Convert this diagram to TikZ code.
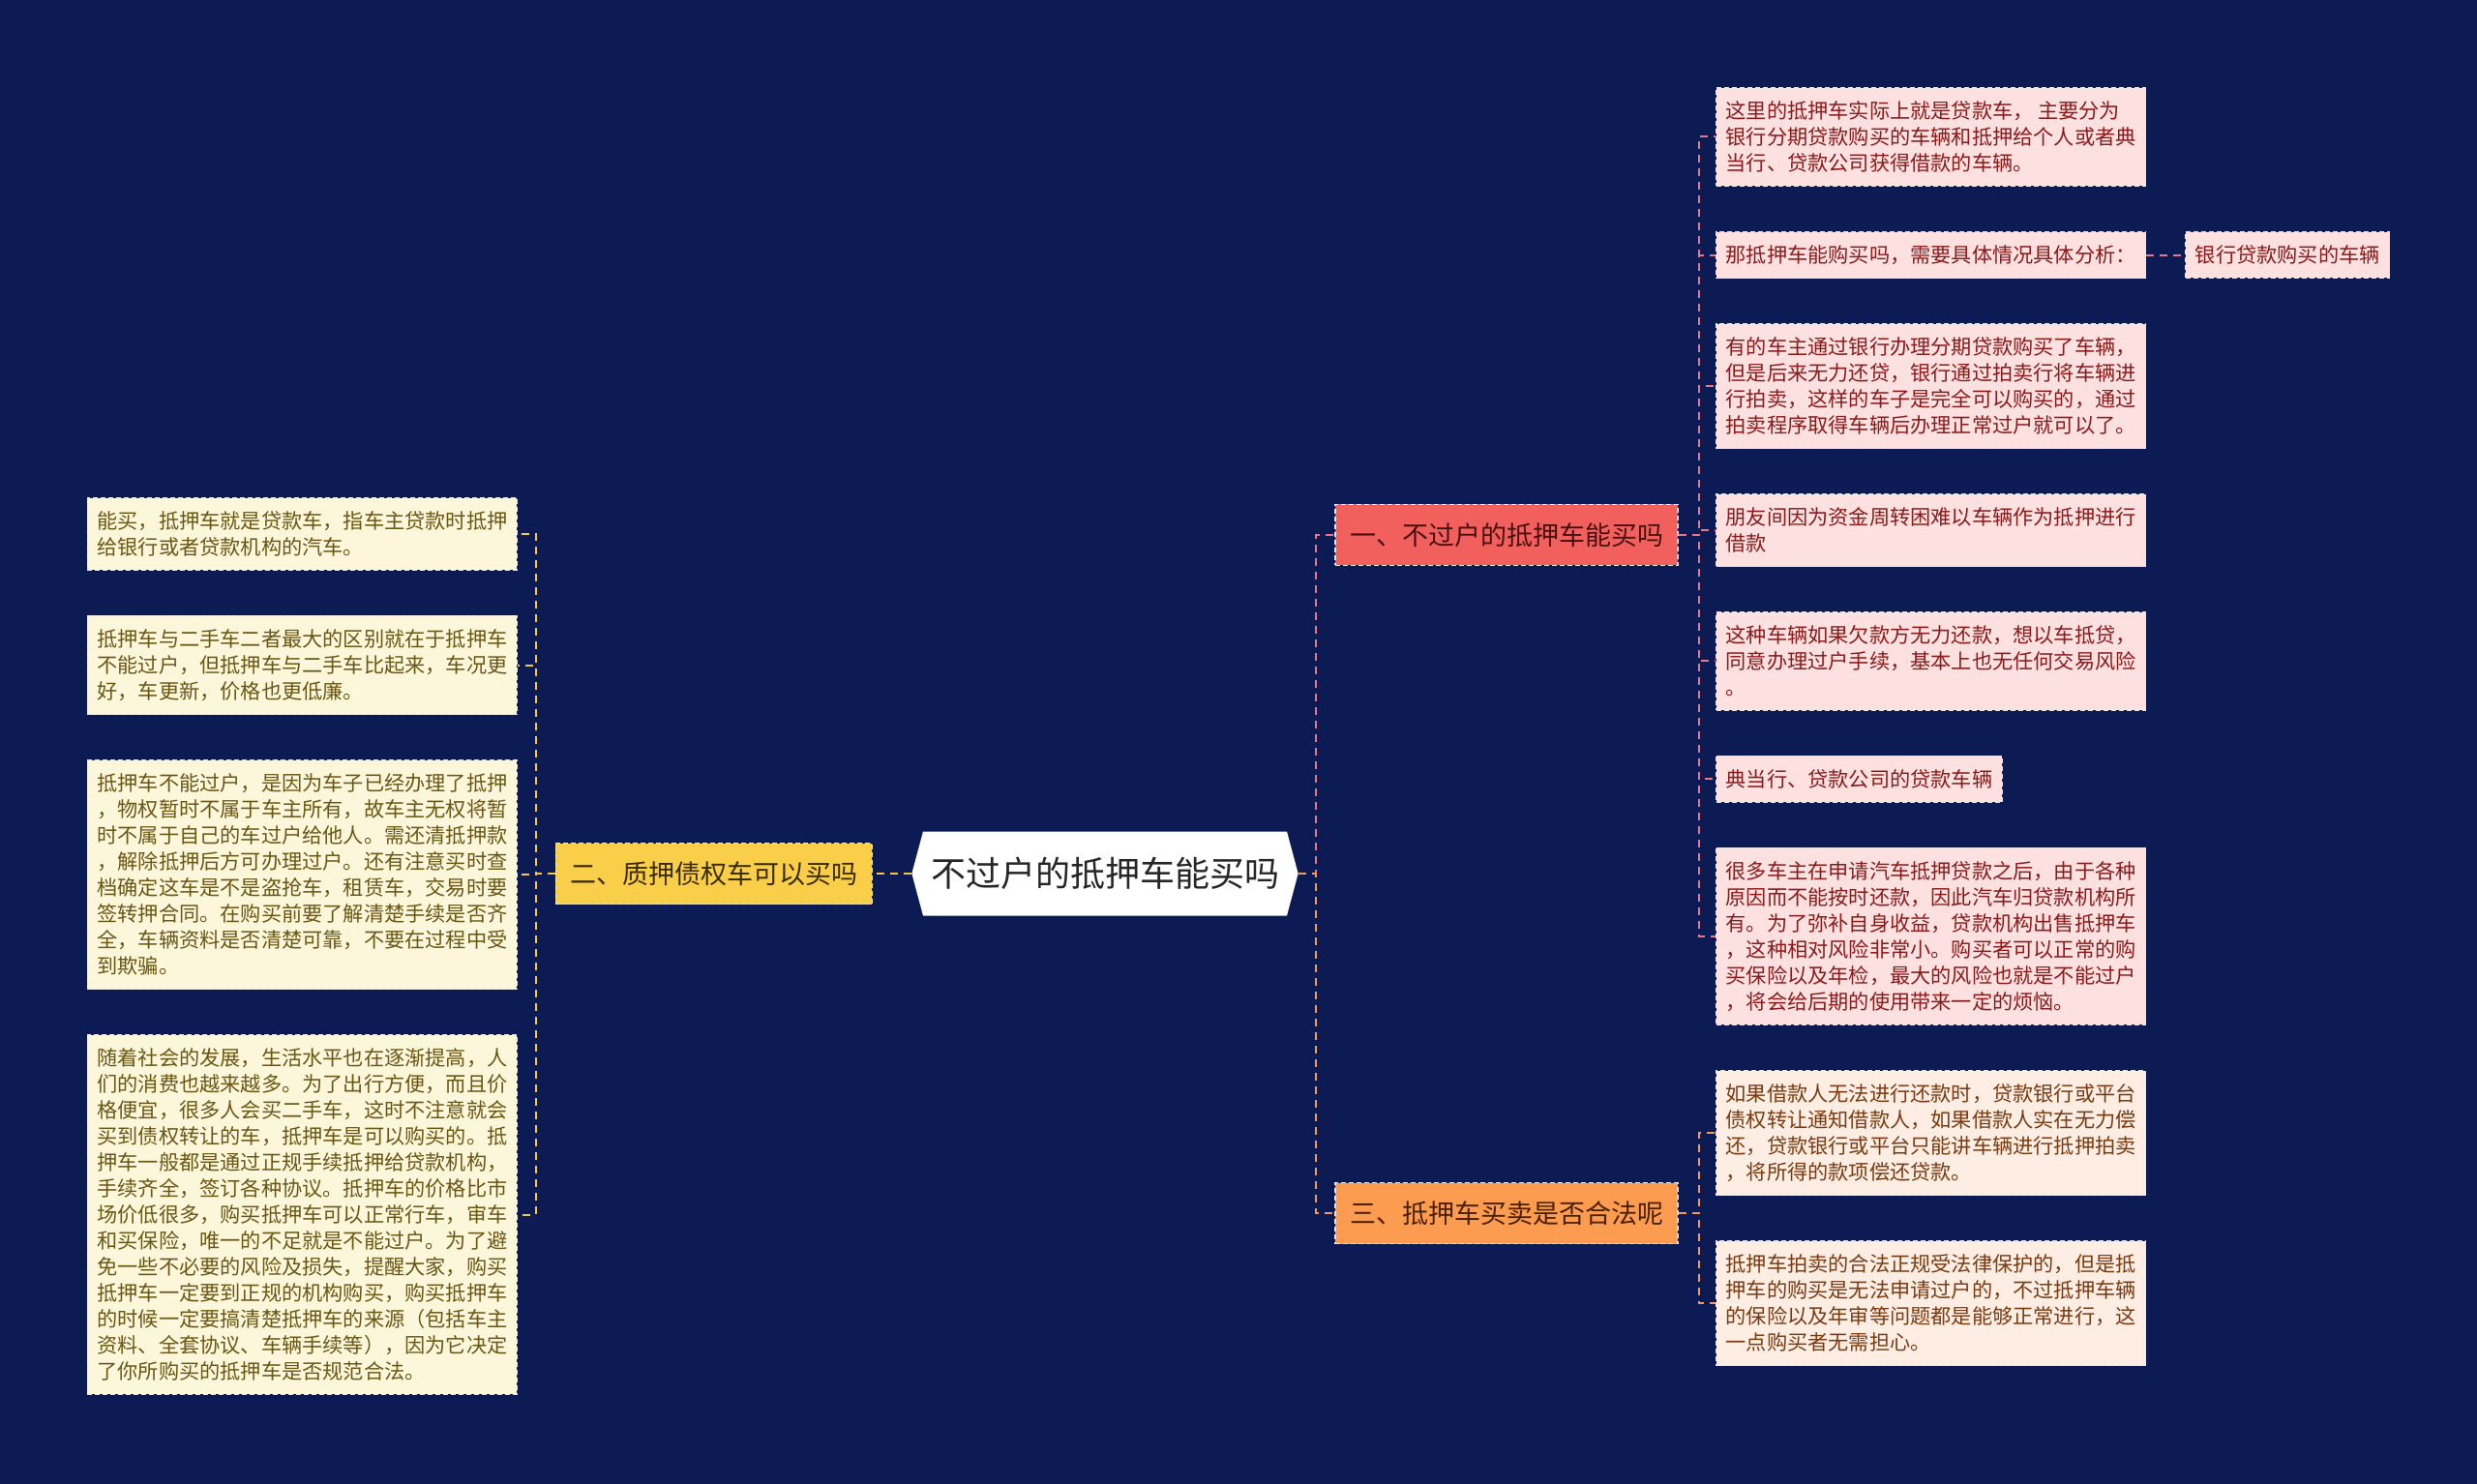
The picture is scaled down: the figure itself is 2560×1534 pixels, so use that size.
\documentclass[tikz,border=0pt]{standalone}
\usepackage{fontspec}
\setmainfont{Noto Sans CJK SC}
\usetikzlibrary{shapes.symbols,positioning}
\definecolor{bgnavy}{HTML}{0C1B54}
\definecolor{redfill}{HTML}{F2605E}
\definecolor{redtext}{HTML}{4A1010}
\definecolor{yelfill}{HTML}{F9CF4A}
\definecolor{yeltext}{HTML}{3A2A00}
\definecolor{orgfill}{HTML}{FB9C50}
\definecolor{orgtext}{HTML}{4A2000}
\definecolor{pinkleaf}{HTML}{FDE1E1}
\definecolor{pinktext}{HTML}{8B1A1A}
\definecolor{peachleaf}{HTML}{FDEDE2}
\definecolor{peachtext}{HTML}{7A3B12}
\definecolor{creamleaf}{HTML}{FCF6DA}
\definecolor{creamtext}{HTML}{6B5714}
\definecolor{pinkline}{HTML}{E6788A}
\definecolor{orgline}{HTML}{F59A5C}
\definecolor{yelline}{HTML}{F5C842}
\tikzset{
  topic/.style   ={signal,signal to=west and east,signal pointer angle=150,
                   fill=white,text=black!85,inner xsep=4pt,minimum height=43.5pt,
                   font=\fontsize{18pt}{22pt}\selectfont},
  subtopic/.style={rectangle,draw=white!80!gray,dash pattern=on 2.5pt off 1.5pt,
                   line width=0.6pt,inner xsep=7.5pt,minimum height=31.5pt,
                   font=\fontsize{13.5pt}{16pt}\selectfont},
  leaf/.style    ={rectangle,draw=white!80!gray,dash pattern=on 2.5pt off 1.5pt,
                   line width=0.6pt,inner xsep=5pt,inner ysep=7pt,align=left,
                   font=\fontsize{10.6pt}{13.5pt}\selectfont},
  leafA/.style   ={leaf,fill=pinkleaf,text=pinktext},
  leafC/.style   ={leaf,fill=peachleaf,text=peachtext},
  leafB/.style   ={leaf,fill=creamleaf,text=creamtext},
  link/.style    ={dash pattern=on 4pt off 3pt,line width=1pt}
}
\begin{document}
\begin{tikzpicture}[x=0.5pt,y=-0.5pt,node distance=23pt and 19pt]
  \fill[bgnavy] (0,0) rectangle (2560,1534);
  \useasboundingbox (0,0) rectangle (2560,1534);

  \node (main) [topic] at (1142,903) {不过户的抵押车能买吗};
  \node (q1) [subtopic, fill=redfill, text=redtext] at (1557,553) {一、不过户的抵押车能买吗};
  \node (q2) [subtopic, fill=yelfill, text=yeltext, left=20pt of main] {二、质押债权车可以买吗};
  \node (q3) [subtopic, fill=orgfill, text=orgtext] at (1557,1254) {三、抵押车买卖是否合法呢};

  % right side
  \node (a1) [leafA, anchor=north west] at (1773,90)
    {这里的抵押车实际上就是贷款车， 主要分为\\银行分期贷款购买的车辆和抵押给个人或者典\\当行、贷款公司获得借款的车辆。};
  \node (a2) [leafA, below=of a1.south west, anchor=north west] {那抵押车能购买吗，需要具体情况具体分析：};
  \node (a2x) [leafA, right=20pt of a2] {银行贷款购买的车辆};
  \node (a3) [leafA, below=of a2.south west, anchor=north west]
    {有的车主通过银行办理分期贷款购买了车辆，\\但是后来无力还贷，银行通过拍卖行将车辆进\\行拍卖，这样的车子是完全可以购买的，通过\\拍卖程序取得车辆后办理正常过户就可以了。};
  \node (a4) [leafA, below=of a3.south west, anchor=north west]
    {朋友间因为资金周转困难以车辆作为抵押进行\\借款};
  \node (a5) [leafA, below=of a4.south west, anchor=north west]
    {这种车辆如果欠款方无力还款，想以车抵贷，\\同意办理过户手续，基本上也无任何交易风险\\。};
  \node (a6) [leafA, below=of a5.south west, anchor=north west] {典当行、贷款公司的贷款车辆};
  \node (a7) [leafA, below=of a6.south west, anchor=north west]
    {很多车主在申请汽车抵押贷款之后，由于各种\\原因而不能按时还款，因此汽车归贷款机构所\\有。为了弥补自身收益，贷款机构出售抵押车\\，这种相对风险非常小。购买者可以正常的购\\买保险以及年检，最大的风险也就是不能过户\\，将会给后期的使用带来一定的烦恼。};
  \node (c1) [leafC, below=of a7.south west, anchor=north west]
    {如果借款人无法进行还款时，贷款银行或平台\\债权转让通知借款人，如果借款人实在无力偿\\还，贷款银行或平台只能讲车辆进行抵押拍卖\\，将所得的款项偿还贷款。};
  \node (c2) [leafC, below=of c1.south west, anchor=north west]
    {抵押车拍卖的合法正规受法律保护的，但是抵\\押车的购买是无法申请过户的，不过抵押车辆\\的保险以及年审等问题都是能够正常进行，这\\一点购买者无需担心。};

  % left side
  \node (b1) [leafB, anchor=north east] at (535,514)
    {能买，抵押车就是贷款车，指车主贷款时抵押\\给银行或者贷款机构的汽车。};
  \node (b2) [leafB, below=of b1.south east, anchor=north east]
    {抵押车与二手车二者最大的区别就在于抵押车\\不能过户，但抵押车与二手车比起来，车况更\\好，车更新，价格也更低廉。};
  \node (b3) [leafB, below=of b2.south east, anchor=north east]
    {抵押车不能过户，是因为车子已经办理了抵押\\，物权暂时不属于车主所有，故车主无权将暂\\时不属于自己的车过户给他人。需还清抵押款\\，解除抵押后方可办理过户。还有注意买时查\\档确定这车是不是盗抢车，租赁车，交易时要\\签转押合同。在购买前要了解清楚手续是否齐\\全，车辆资料是否清楚可靠，不要在过程中受\\到欺骗。};
  \node (b4) [leafB, below=of b3.south east, anchor=north east]
    {随着社会的发展，生活水平也在逐渐提高，人\\们的消费也越来越多。为了出行方便，而且价\\格便宜，很多人会买二手车，这时不注意就会\\买到债权转让的车，抵押车是可以购买的。抵\\押车一般都是通过正规手续抵押给贷款机构，\\手续齐全，签订各种协议。抵押车的价格比市\\场价低很多，购买抵押车可以正常行车，审车\\和买保险，唯一的不足就是不能过户。为了避\\免一些不必要的风险及损失，提醒大家，购买\\抵押车一定要到正规的机构购买，购买抵押车\\的时候一定要搞清楚抵押车的来源（包括车主\\资料、全套协议、车辆手续等），因为它决定\\了你所购买的抵押车是否规范合法。};

  % connectors
  \draw [link, draw=pinkline] (main.east) -- ++(9pt,0) |- (q1.west);
  \draw [link, draw=orgline] (main.east) -- ++(9pt,0) |- (q3.west);
  \draw [link, draw=yelline] (main.west) -- (q2.east);

  \draw [link, draw=pinkline] (q1.east) -- ++(10.5pt,0) |- (a1.west);
  \draw [link, draw=pinkline] (q1.east) -- ++(10.5pt,0) |- (a2.west);
  \draw [link, draw=pinkline] (q1.east) -- ++(10.5pt,0) |- (a3.west);
  \draw [link, draw=pinkline] (q1.east) -- ++(10.5pt,0) |- (a4.west);
  \draw [link, draw=pinkline] (q1.east) -- ++(10.5pt,0) |- (a5.west);
  \draw [link, draw=pinkline] (q1.east) -- ++(10.5pt,0) |- (a6.west);
  \draw [link, draw=pinkline] (q1.east) -- ++(10.5pt,0) |- (a7.west);
  \draw [link, draw=pinkline] (a2.east) -- (a2x.west);

  \draw [link, draw=orgline] (q3.east) -- ++(10.5pt,0) |- (c1.west);
  \draw [link, draw=orgline] (q3.east) -- ++(10.5pt,0) |- (c2.west);

  \draw [link, draw=yelline] (q2.west) -- ++(-10pt,0) |- (b1.east);
  \draw [link, draw=yelline] (q2.west) -- ++(-10pt,0) |- (b2.east);
  \draw [link, draw=yelline] (q2.west) -- ++(-10pt,0) |- (b3.east);
  \draw [link, draw=yelline] (q2.west) -- ++(-10pt,0) |- (b4.east);
\end{tikzpicture}
\end{document}
